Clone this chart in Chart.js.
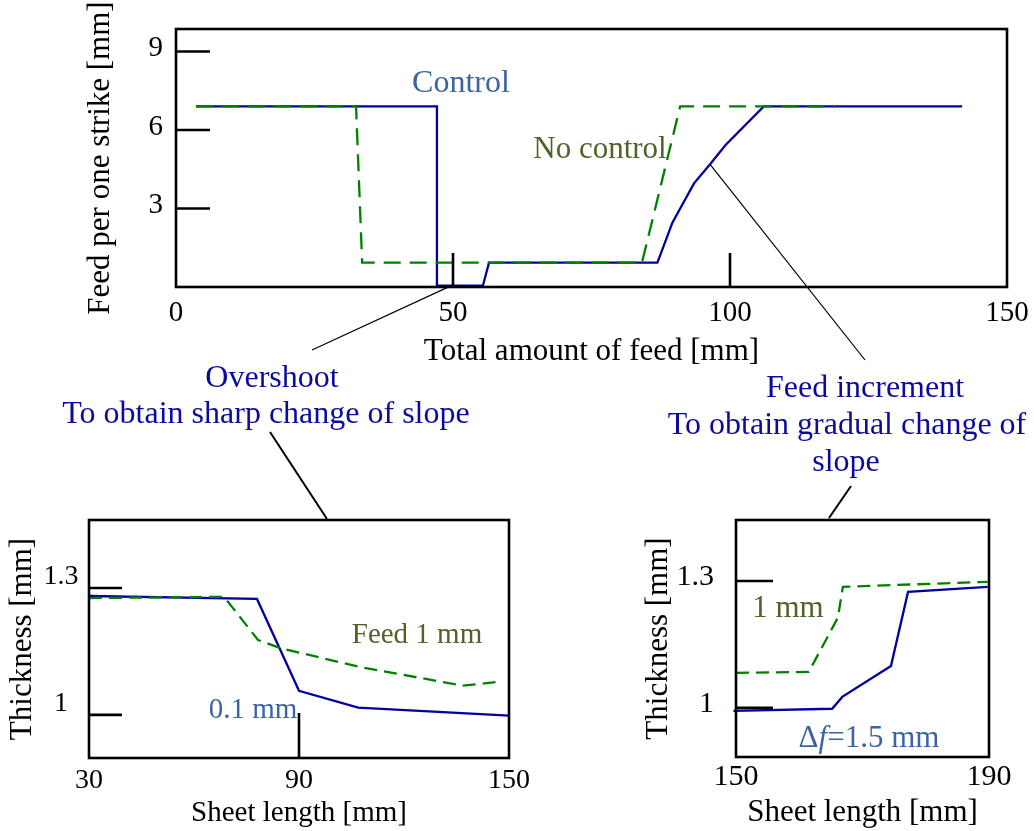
<!DOCTYPE html>
<html>
<head>
<meta charset="utf-8">
<title>Feed per strike and sheet thickness</title>
<script src="https://cdn.jsdelivr.net/npm/chart.js@4.4.1/dist/chart.umd.min.js"></script>
<style>
  html, body { margin: 0; background: #fff; }
  #page { position: relative; width: 1034px; height: 831px; overflow: hidden; }
  #page canvas { position: absolute; left: 0; top: 0; }
  .note {
    position: absolute;
    font-family: 'Liberation Serif', 'Times New Roman', serif;
    line-height: 1;
    white-space: nowrap;
    transform: translateX(-50%);
  }
  .callout { color: #0a0aa0; font-size: 32px; }
  .ctrl { color: #3c64a0; }
  .noctrl { color: #4f6228; }
</style>
</head>
<body>
<div id="page">
  <canvas id="feedChart" width="1034" height="831"></canvas>
  <canvas id="sharpChart" width="1034" height="831"></canvas>
  <canvas id="gradualChart" width="1034" height="831"></canvas>

  <div class="note ctrl" style="left:461px; top:65px; font-size:32px;">Control</div>
  <div class="note noctrl" style="left:600px; top:132px; font-size:31px;">No control</div>

  <div class="note callout" style="left:272px; top:360px;">Overshoot</div>
  <div class="note callout" style="left:266px; top:396px;">To obtain sharp change of slope</div>
  <div class="note callout" style="left:865px; top:370px;">Feed increment</div>
  <div class="note callout" style="left:847px; top:407px;">To obtain gradual change of</div>
  <div class="note callout" style="left:846px; top:444px;">slope</div>

  <div class="note noctrl" style="left:417px; top:619px; font-size:29px;">Feed 1 mm</div>
  <div class="note ctrl" style="left:253px; top:694px; font-size:29px;">0.1 mm</div>

  <div class="note noctrl" style="left:788px; top:591px; font-size:31px;">1 mm</div>
  <div class="note ctrl" style="left:869px; top:721px; font-size:31px;">&Delta;<i>f</i>=1.5 mm</div>
</div>

<script>
// Feed per one strike vs. total amount of feed
const controlX = [3.6, 47.1, 47.1, 55.4, 56.5, 86.9, 89.6, 93.5, 96.4, 99.2, 106.1, 141.9];
const controlY = [6.9, 6.9, 0.05, 0.05, 0.93, 0.93, 2.46, 3.96, 4.69, 5.43, 6.9, 6.9];
const noControlX = [3.6, 32.5, 33.6, 84.1, 91.0, 119.0];
const noControlY = [6.9, 6.9, 0.93, 0.93, 6.9, 6.9];
const feedXTicks = [0, 50, 100, 150];
const feedYTicks = [3, 6, 9];

// Thickness, sharp change of slope (overshoot 0.1 mm vs. feed 1 mm)
const sharpX = [30, 78, 90, 106.9, 150];
const sharpY = [1.281, 1.274, 1.057, 1.017, 0.998];
const sharpFeedX = [30, 68.6, 78.3, 84.6, 107.4, 136.9, 146.9];
const sharpFeedY = [1.276, 1.279, 1.177, 1.158, 1.113, 1.069, 1.078];
const sharpXTicks = [30, 90, 150];
const sharpYTicks = [1, 1.3];

// Thickness, gradual change of slope (increment 1.5 mm vs. feed 1 mm)
const gradualX = [149.6, 165.2, 166.8, 174.5, 177.2, 189.8];
const gradualY = [0.993, 0.998, 1.026, 1.099, 1.274, 1.286];
const gradualFeedX = [150, 161.5, 166.1, 166.9, 189.8];
const gradualFeedY = [1.083, 1.085, 1.213, 1.286, 1.298];
const gradualXTicks = [150, 190];
const gradualYTicks = [1, 1.3];

Chart.defaults.font.family = "'Liberation Serif', 'Times New Roman', serif";
Chart.defaults.color = '#000';

const BLUE = '#0000a0';
const GREEN = '#008000';

function series(xs, ys, color, dash) {
  return {
    data: xs.map((v, i) => ({ x: v, y: ys[i] })),
    borderColor: color,
    borderWidth: 2.3,
    borderDash: dash || [],
    pointRadius: 0,
    tension: 0,
    fill: false,
    clip: false
  };
}

// box around the plot plus short inward tick marks
const frame = {
  id: 'frame',
  afterDraw(chart, args, opts) {
    const { ctx, chartArea: a, scales: { x, y } } = chart;
    ctx.save();
    ctx.strokeStyle = '#000';
    ctx.lineWidth = 2.6;
    ctx.strokeRect(a.left, a.top, a.right - a.left, a.bottom - a.top);
    ctx.beginPath();
    (opts.yMarks || []).forEach(v => {
      const py = y.getPixelForValue(v);
      ctx.moveTo(a.left, py);
      ctx.lineTo(a.left + opts.yLen, py);
    });
    (opts.xMarks || []).forEach(v => {
      const px = x.getPixelForValue(v);
      ctx.moveTo(px, a.bottom);
      ctx.lineTo(px, a.bottom - opts.xLen);
    });
    ctx.stroke();
    ctx.restore();
  }
};
Chart.register(frame);

// leader lines from the notes to the curves and the lower panels
const leaders = {
  id: 'leaders',
  afterDraw(chart) {
    const { ctx, scales: { x, y } } = chart;
    ctx.save();
    ctx.strokeStyle = '#000';
    ctx.lineWidth = 1.2;
    ctx.beginPath();
    ctx.moveTo(x.getPixelForValue(50), y.getPixelForValue(0.08));
    ctx.lineTo(312, 350);
    ctx.moveTo(x.getPixelForValue(controlX[8]), y.getPixelForValue(controlY[8]));
    ctx.lineTo(865, 360);
    ctx.stroke();
    ctx.lineWidth = 2;
    ctx.beginPath();
    ctx.moveTo(270, 432);
    ctx.lineTo(327, 519);
    ctx.moveTo(851, 486);
    ctx.lineTo(829, 518);
    ctx.stroke();
    ctx.restore();
  }
};

function panel(id, datasets, s) {
  return new Chart(document.getElementById(id), {
    type: 'line',
    data: { datasets },
    plugins: s.plugins || [],
    options: {
      responsive: false,
      animation: false,
      events: [],
      layout: { padding: s.padding },
      plugins: {
        legend: { display: false },
        tooltip: { enabled: false },
        frame: s.frame
      },
      scales: {
        x: {
          type: 'linear',
          min: s.xMin,
          max: s.xMax,
          afterBuildTicks: sc => { sc.ticks = s.xTicks.map(v => ({ value: v })); },
          afterFit: sc => { sc.height = s.xH; },
          grid: { display: false, drawTicks: false },
          border: { display: false },
          ticks: {
            // label drop below the frame comes from the line height, which keeps
            // the edge padding of the last label small
            font: { size: s.tickSize, lineHeight: s.xLabelDrop * 2 + 'px' },
            padding: 0,
            maxRotation: 0,
            autoSkip: false,
            callback: v => v
          },
          title: { display: true, text: s.xTitle, font: { size: s.xTitleSize, lineHeight: 1 }, padding: 0 }
        },
        y: {
          type: 'linear',
          min: s.yMin,
          max: s.yMax,
          afterBuildTicks: sc => { sc.ticks = s.yTicks.map(v => ({ value: v })); },
          afterFit: sc => { sc.width = s.yW; },
          grid: { display: false, drawTicks: false },
          border: { display: false },
          ticks: {
            font: { size: s.tickSize, lineHeight: 1 },
            padding: s.yPad,
            labelOffset: s.yLabelOffset,
            crossAlign: s.yAlign || 'near',
            autoSkip: false,
            callback: v => v
          },
          title: { display: true, text: s.yTitle, font: { size: 31, lineHeight: 1 }, padding: 0 }
        }
      }
    }
  });
}

panel('feedChart', [
  series(noControlX, noControlY, GREEN, [17, 9]),
  series(controlX, controlY, BLUE)
], {
  plugins: [leaders],
  padding: { left: 85.5, top: 29, right: 27, bottom: 464 },
  xMin: 0, xMax: 150, yMin: 0, yMax: 9.86,
  xTicks: feedXTicks, yTicks: feedYTicks,
  xH: 80, yW: 90.5,
  tickSize: 29, xLabelDrop: 26, yPad: 13, yLabelOffset: -3,
  xTitle: 'Total amount of feed [mm]', xTitleSize: 31,
  yTitle: 'Feed per one strike [mm]',
  frame: { xMarks: [50, 100], xLen: 34, yMarks: [3, 6, 9], yLen: 34 }
});

panel('sharpChart', [
  series(sharpFeedX, sharpFeedY, GREEN, [13, 7]),
  series(sharpX, sharpY, BLUE)
], {
  padding: { left: 7.5, top: 520, right: 525, bottom: 3.5 },
  xMin: 30, xMax: 150, yMin: 0.898, yMax: 1.4606,
  xTicks: sharpXTicks, yTicks: sharpYTicks,
  xH: 69.5, yW: 81.5,
  tickSize: 28, xLabelDrop: 23, yPad: 10.5, yLabelOffset: -11, yAlign: 'center',
  xTitle: 'Sheet length [mm]', xTitleSize: 29,
  yTitle: 'Thickness [mm]',
  frame: { xMarks: [90], xLen: 45, yMarks: [1, 1.3], yLen: 33 }
});

panel('gradualChart', [
  series(gradualFeedX, gradualFeedY, GREEN, [13, 7]),
  series(gradualX, gradualY, BLUE)
], {
  padding: { left: 643.5, top: 520, right: 45, bottom: 2.5 },
  xMin: 150, xMax: 190, yMin: 0.884, yMax: 1.444,
  xTicks: gradualXTicks, yTicks: gradualYTicks,
  xH: 71.5, yW: 92.5,
  tickSize: 30, xLabelDrop: 20, yPad: 22, yLabelOffset: -4,
  xTitle: 'Sheet length [mm]', xTitleSize: 31,
  yTitle: 'Thickness [mm]',
  frame: { xMarks: [], xLen: 0, yMarks: [1, 1.3], yLen: 37 }
});
</script>
</body>
</html>
